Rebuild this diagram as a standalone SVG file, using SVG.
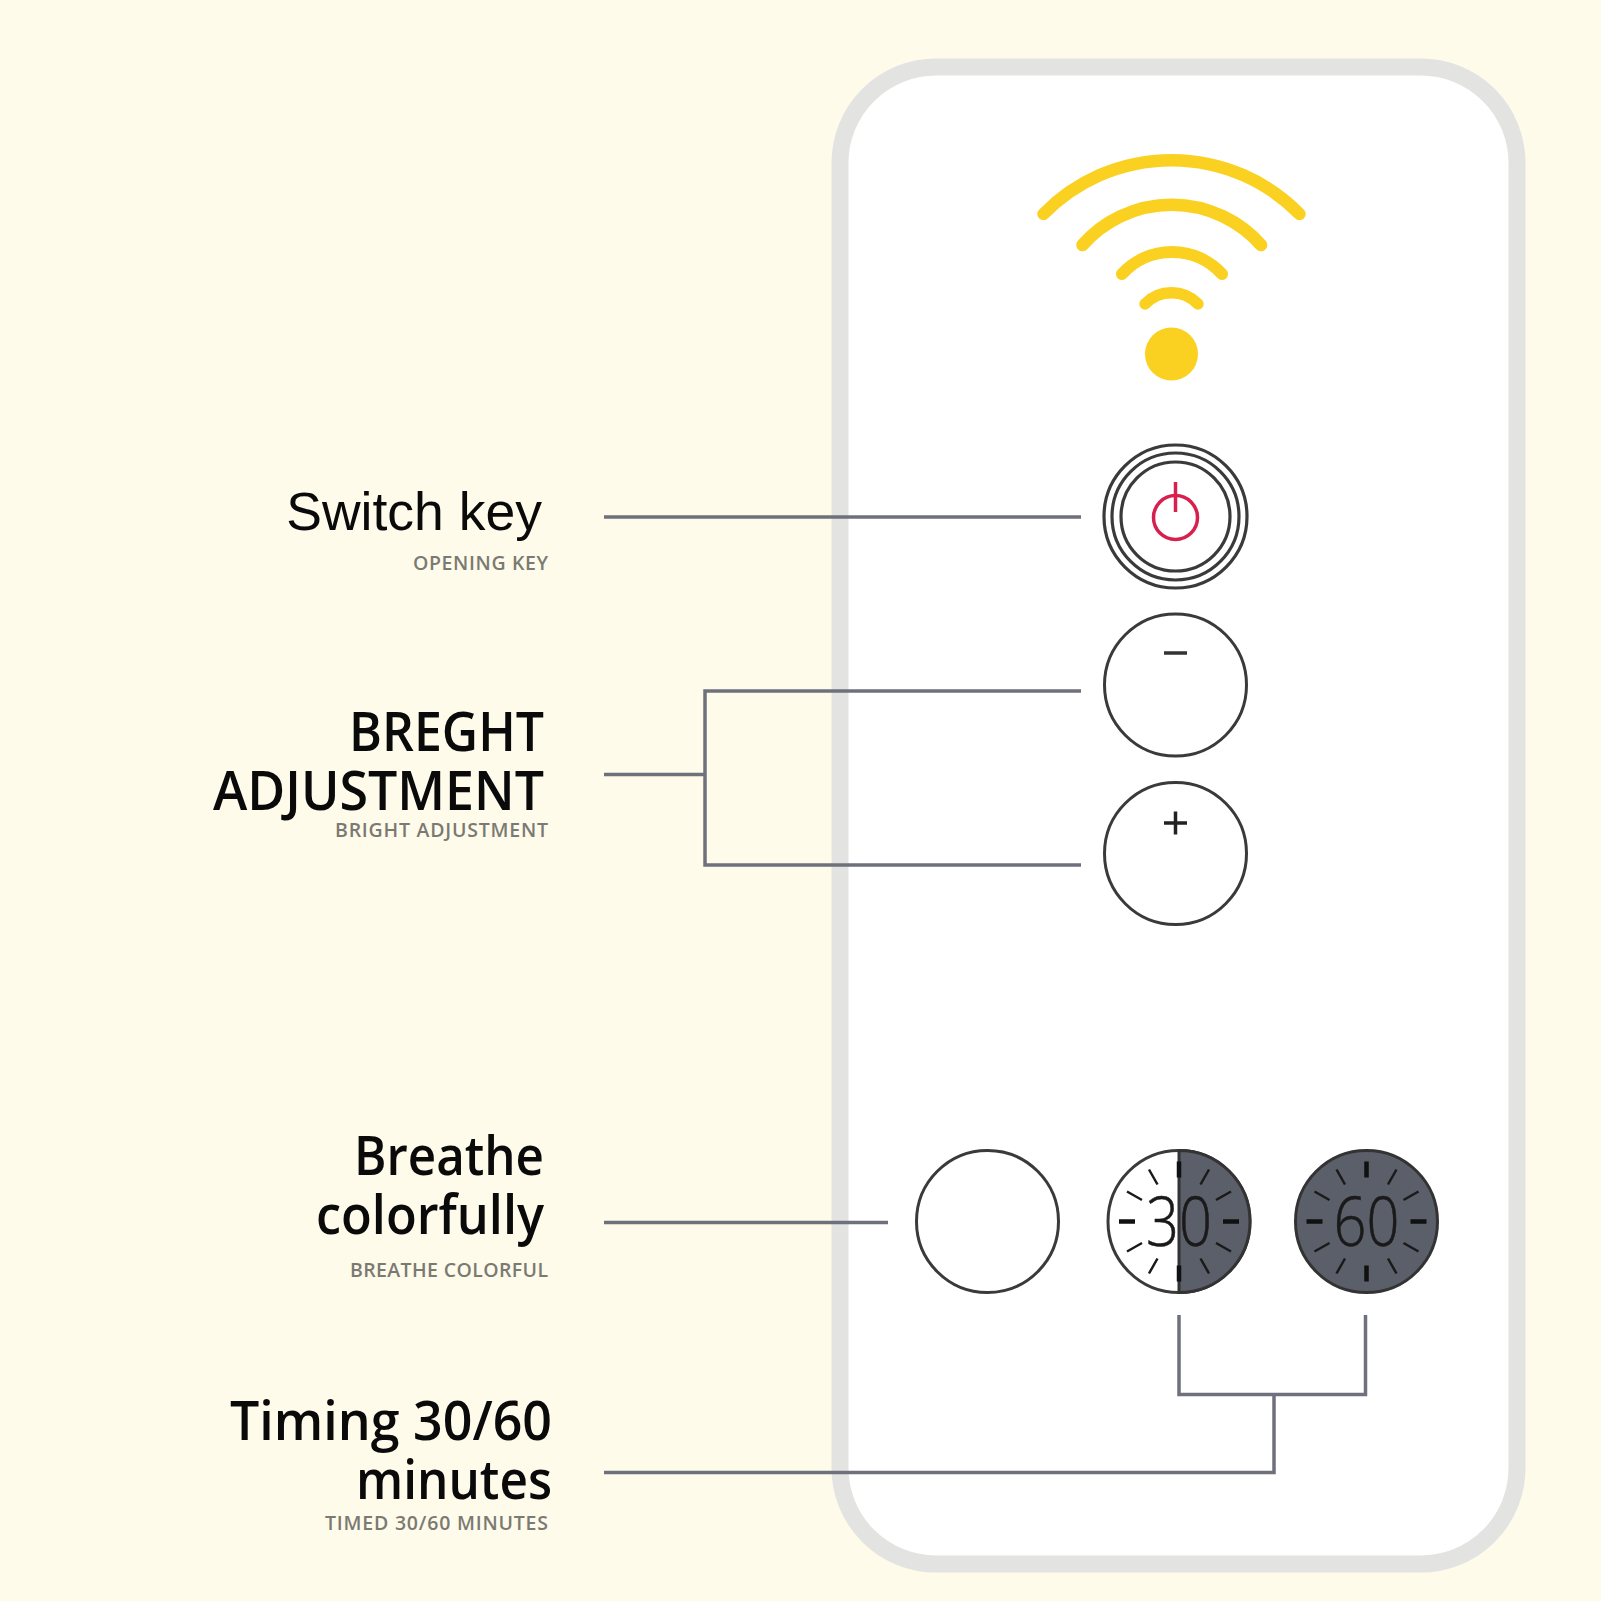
<svg xmlns="http://www.w3.org/2000/svg" width="1601" height="1601" viewBox="0 0 1601 1601">
<style>
.h{font-family:"Open Sans","Noto Sans",sans-serif;font-size:55px;font-weight:600;fill:#0a0a0a;text-anchor:end}
.s{font-family:"Open Sans","Noto Sans",sans-serif;font-size:19.500px;font-weight:600;fill:#7b7a72;text-anchor:end}
.c{fill:#fff;stroke:#3a3a3a;stroke-width:3}
.w{fill:none;stroke:#fbd121;stroke-linecap:round}
.l{fill:none;stroke:#6e717c;stroke-width:3.500}
.r{fill:none;stroke:#3a3a3a;stroke-width:3.200}
.t{stroke:#1a1a1a;stroke-width:2.500}
.T{stroke:#111;stroke-width:4.500}
.n{font-family:"Open Sans",sans-serif;font-weight:300;font-size:68px;fill:#1a1a1a;stroke:#1a1a1a;stroke-width:.6;text-anchor:middle}
</style>
<defs>
<g id="ticks">
<path class="T" d="M0-60V-44M0 44V60M-60 0H-44M44 0H60"/>
<path class="t" d="M-30-52-21.500-37M30-52 21.500-37M-52-30-37-21.500M52-30 37-21.500M-52 30-37 21.500M52 30 37 21.500M-30 52-21.500 37M30 52 21.500 37"/>
</g>
</defs>
<rect width="1601" height="1601" fill="#fefbeb"/>
<g id="panel"><rect x="840" y="67" width="677" height="1497" rx="96" fill="#fff" stroke="#e3e3e1" stroke-width="17"/></g>
<g id="wifi">
<path class="w" stroke-width="12.500" d="M1043.500 214A179 179 0 0 1 1299.500 214"/>
<path class="w" stroke-width="12.500" d="M1082.500 245A119 119 0 0 1 1261 245"/>
<path class="w" stroke-width="12" d="M1122 274A68 68 0 0 1 1222 274"/>
<path class="w" stroke-width="11.500" d="M1145 304A37 37 0 0 1 1198 304"/>
<circle cx="1171.500" cy="354" r="26.500" fill="#fbd121"/>
</g>
<g id="connectors">
<path class="l" d="M604 517H1081"/>
<path class="l" d="M1081 691H705V865H1081M604 774.500H705"/>
<path class="l" d="M604 1222.500H888"/>
<path class="l" d="M1179 1315V1394.500H1365.500V1315M1274 1394.500V1472.500H604"/>
</g>
<g id="switch-key">
<circle cx="1175.500" cy="516.500" r="71.500" class="r"/><circle cx="1175.500" cy="516.500" r="63.500" class="r"/><circle cx="1175.500" cy="516.500" r="54.500" class="r"/>
<circle cx="1175.500" cy="517.500" r="22" fill="none" stroke="#d8204f" stroke-width="3.500"/>
<path d="M1175.500 482V512" stroke="#d8204f" stroke-width="3.500"/>
</g>
<g id="minus-key"><circle class="c" cx="1175.500" cy="685" r="71"/><path d="M1164 653H1187" stroke="#333" stroke-width="3.500"/></g>
<g id="plus-key"><circle class="c" cx="1175.500" cy="853.500" r="71"/><path d="M1164 823H1187M1175.500 811.500V834.500" stroke="#222" stroke-width="3.500"/></g>
<g id="breathe-key"><circle class="c" cx="987.500" cy="1221.500" r="71"/></g>
<g id="timer-30">
<circle class="c" cx="1179" cy="1221.500" r="71"/>
<path d="M1179 1150.500A71 71 0 0 1 1179 1292.500Z" fill="#5b5f6a" stroke="#333" stroke-width="3"/>
<use href="#ticks" x="1179" y="1221.500"/>
<text class="n" x="1179" y="1246" textLength="66" lengthAdjust="spacingAndGlyphs">30</text>
</g>
<g id="timer-60">
<circle cx="1366.500" cy="1221.500" r="71" fill="#5b5f6a" stroke="#333" stroke-width="3"/>
<use href="#ticks" x="1366.500" y="1221.500"/>
<text class="n" x="1366.500" y="1246" textLength="66" lengthAdjust="spacingAndGlyphs">60</text>
</g>
<g id="labels">
<text x="542" y="530" font-family="Liberation Sans,sans-serif" font-size="53.500" fill="#0a0a0a" text-anchor="end">Switch key</text>
<text class="s" x="548" y="570" textLength="135">OPENING KEY</text>
<text class="h" x="544" y="751" textLength="195" lengthAdjust="spacingAndGlyphs">BREGHT</text>
<text class="h" x="544" y="810" textLength="331" lengthAdjust="spacingAndGlyphs">ADJUSTMENT</text>
<text class="s" x="548" y="837" textLength="213">BRIGHT ADJUSTMENT</text>
<text class="h" x="544" y="1175" textLength="190" lengthAdjust="spacingAndGlyphs">Breathe</text>
<text class="h" x="544" y="1234" textLength="228" lengthAdjust="spacingAndGlyphs">colorfully</text>
<text class="s" x="548" y="1277" textLength="198">BREATHE COLORFUL</text>
<text class="h" x="552" y="1440" textLength="322" lengthAdjust="spacingAndGlyphs">Timing 30/60</text>
<text class="h" x="552" y="1499" textLength="196" lengthAdjust="spacingAndGlyphs">minutes</text>
<text class="s" x="548" y="1530" textLength="223">TIMED 30/60 MINUTES</text>
</g>
</svg>
